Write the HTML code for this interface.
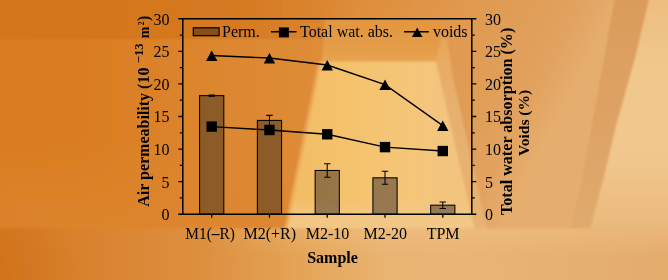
<!DOCTYPE html>
<html><head><meta charset="utf-8"><style>
html,body{margin:0;padding:0;background:#DB7F26;}
body{width:668px;height:280px;overflow:hidden;}
svg{display:block}
text{font-family:"Liberation Serif",serif;fill:#000}
.b{font-weight:bold}
</style></head><body>
<svg width="668" height="280" viewBox="0 0 668 280">
<defs>
<linearGradient id="gl" gradientUnits="userSpaceOnUse" x1="0" y1="0" x2="330" y2="0">
<stop offset="0" stop-color="#D97C20"/><stop offset="0.3" stop-color="#DA7E22"/><stop offset="0.73" stop-color="#DD8832"/><stop offset="1" stop-color="#DF8D3A"/></linearGradient>
<linearGradient id="gt" gradientUnits="userSpaceOnUse" x1="0" y1="0" x2="330" y2="0">
<stop offset="0" stop-color="#D4761E"/><stop offset="0.3" stop-color="#D4761C"/><stop offset="0.75" stop-color="#D67B22"/><stop offset="1" stop-color="#DC8632"/></linearGradient>
<linearGradient id="gf" gradientUnits="userSpaceOnUse" x1="0" y1="0" x2="668" y2="0">
<stop offset="0" stop-color="#D47620"/><stop offset="0.15" stop-color="#DA8430"/><stop offset="0.31" stop-color="#DE9040"/><stop offset="0.45" stop-color="#E4A456"/><stop offset="0.58" stop-color="#E9B472"/><stop offset="0.7" stop-color="#E9B474"/><stop offset="0.8" stop-color="#E6B272"/><stop offset="1" stop-color="#E4AC6C"/></linearGradient>
<linearGradient id="gtr" gradientUnits="userSpaceOnUse" x1="330" y1="0" x2="560" y2="120">
<stop offset="0" stop-color="#DC8632"/><stop offset="0.12" stop-color="#DF8E3A"/><stop offset="0.5" stop-color="#E19A50"/><stop offset="0.7" stop-color="#E09E58"/><stop offset="0.88" stop-color="#E2A461"/><stop offset="1.04" stop-color="#E6AE6E"/></linearGradient>
<linearGradient id="gc" gradientUnits="userSpaceOnUse" x1="0" y1="19" x2="0" y2="61">
<stop offset="0" stop-color="#E2963E"/><stop offset="0.8" stop-color="#E59E4A"/><stop offset="1" stop-color="#E8A452"/></linearGradient>
<linearGradient id="gw" gradientUnits="userSpaceOnUse" x1="290" y1="0" x2="470" y2="0">
<stop offset="0" stop-color="#F2BC64"/><stop offset="0.3" stop-color="#F5C26C"/><stop offset="0.65" stop-color="#F5C678"/><stop offset="1" stop-color="#F2C480"/></linearGradient>
<linearGradient id="gb" gradientUnits="userSpaceOnUse" x1="0" y1="0" x2="0" y2="229">
<stop offset="0" stop-color="#DB9C5A"/><stop offset="1" stop-color="#E0AA6E"/></linearGradient>
<linearGradient id="gr" gradientUnits="userSpaceOnUse" x1="0" y1="0" x2="0" y2="229">
<stop offset="0" stop-color="#EDBE80"/><stop offset="0.3" stop-color="#F0C88C"/><stop offset="0.72" stop-color="#F0C68C"/><stop offset="1" stop-color="#E9B87C"/></linearGradient>
<radialGradient id="gbl" gradientUnits="userSpaceOnUse" cx="0" cy="285" r="85">
<stop offset="0" stop-color="#C86A10" stop-opacity="0.3"/><stop offset="1" stop-color="#C86A10" stop-opacity="0"/></radialGradient>
<linearGradient id="gbv" gradientUnits="userSpaceOnUse" x1="0" y1="19" x2="0" y2="229">
<stop offset="0.09" stop-color="#E6A458"/><stop offset="0.2" stop-color="#E8AC62"/><stop offset="0.4" stop-color="#E8B070"/><stop offset="1" stop-color="#E8B272"/></linearGradient>
<linearGradient id="gwb" gradientUnits="userSpaceOnUse" x1="0" y1="200" x2="0" y2="229">
<stop offset="0" stop-color="#F2C686" stop-opacity="0"/><stop offset="0.5" stop-color="#F2C686" stop-opacity="0.8"/><stop offset="1" stop-color="#F2C888" stop-opacity="1"/></linearGradient>
<linearGradient id="glb" gradientUnits="userSpaceOnUse" x1="0" y1="140" x2="0" y2="229">
<stop offset="0" stop-color="#DD8630" stop-opacity="0"/><stop offset="1" stop-color="#DD8630" stop-opacity="0.8"/></linearGradient>
<linearGradient id="gfl" gradientUnits="userSpaceOnUse" x1="0" y1="228.5" x2="0" y2="258">
<stop offset="0" stop-color="#F2C488" stop-opacity="0.45"/><stop offset="1" stop-color="#F2C488" stop-opacity="0"/></linearGradient>
<linearGradient id="gmx" gradientUnits="userSpaceOnUse" x1="200" y1="0" x2="330" y2="0">
<stop offset="0" stop-color="#fff" stop-opacity="0"/><stop offset="1" stop-color="#fff" stop-opacity="1"/></linearGradient>
<mask id="mfl" maskUnits="userSpaceOnUse" x="-5" y="220" width="690" height="60"><rect x="-5" y="220" width="690" height="60" fill="url(#gmx)"/></mask>
<filter id="bl" x="-5%" y="-5%" width="110%" height="110%"><feGaussianBlur stdDeviation="0.8"/></filter>
<filter id="bl2" x="-5%" y="-50%" width="110%" height="200%"><feGaussianBlur stdDeviation="2"/></filter>
</defs>
<g filter="url(#bl)">
<rect x="-5" y="-5" width="680" height="290" fill="url(#gl)"/>
<rect x="-5" y="-5" width="336" height="43.5" fill="url(#gt)"/>
<rect x="-5" y="37.8" width="330" height="1.2" fill="#C86A10" opacity="0.25"/>
<rect x="-5" y="140" width="300" height="90" fill="url(#glb)"/>
<!-- top-right region (ceiling + right wall) -->
<polygon points="322,61.5 326,-5 615.5,-5 604,60 593,120 582,180 571,229 474,229 436,61.5" fill="url(#gtr)"/>
<!-- ceiling trapezoid -->
<polygon points="322,61.5 436,61.5 441,38 446,19 325,19" fill="url(#gc)"/>
<!-- bevel -->
<polygon points="436,61.5 441,38 447,38 452.9,78 487.2,229 474.6,229" fill="url(#gbv)"/>
<!-- band -->
<polygon points="615.5,-5 650,-5 634.5,60 617.5,120 603,180 590,229 571,229 582,180 593,120 604,60" fill="url(#gb)"/>
<!-- far right -->
<polygon points="650,-5 680,-5 680,229 590,229 603,180 617.5,120 634.5,60" fill="url(#gr)"/>
<!-- back wall -->
<polygon points="320.5,61.5 436,61.5 474.6,229 286.5,229" fill="url(#gw)"/>
<polygon points="292,200 467.9,200 474.6,229 286.5,229" fill="url(#gwb)"/>
<polygon points="318.3,61.5 321.3,61.5 287.3,229 284.3,229" fill="#ECA858"/>
<!-- floor -->
<polygon points="-5,228.5 680,228.5 680,285 -5,285" fill="url(#gf)"/>
<rect x="-5" y="150" width="200" height="135" fill="url(#gbl)"/>
<rect x="-5" y="228.5" width="690" height="30" fill="url(#gfl)" mask="url(#mfl)"/>
</g>

<rect x="199.60" y="95.64" width="24.2" height="118.61" fill="#8D5B27" stroke="#000" stroke-width="1.05"/>
<rect x="257.37" y="120.41" width="24.2" height="93.84" fill="#8D5B27" stroke="#000" stroke-width="1.05"/>
<g style="mix-blend-mode:multiply">
<rect x="315.14" y="170.46" width="24.2" height="43.79" fill="#9D9BAB" stroke="#000" stroke-width="1.05"/>
<rect x="372.91" y="177.82" width="24.2" height="36.43" fill="#9D9BAB" stroke="#000" stroke-width="1.05"/>
<rect x="430.68" y="205.19" width="24.2" height="9.06" fill="#9D9BAB" stroke="#000" stroke-width="1.05"/>
</g>
<g stroke="#000" fill="none" stroke-width="1.05">
<path d="M211.70,94.99V96.29M208.50,94.99h6.4M208.50,96.29h6.4"/>
<path d="M269.47,115.39V125.42M266.27,115.39h6.4M266.27,125.42h6.4"/>
<path d="M327.24,163.68V177.23M324.04,163.68h6.4M324.04,177.23h6.4"/>
<path d="M385.01,171.30V184.34M381.81,171.30h6.4M381.81,184.34h6.4"/>
<path d="M442.78,201.93V208.45M439.58,201.93h6.4M439.58,208.45h6.4"/>
</g>
<g stroke="#000" fill="none" stroke-width="1.5">
<path d="M178.3,18.74H476.3M178.3,214.25H476.3M182.8,18.74V214.25M471.8,18.74V214.25"/>
<path stroke-width="1.3" d="M178.3,181.66H182.8M471.8,181.66H476.3M178.3,149.08H182.8M471.8,149.08H476.3M178.3,116.49H182.8M471.8,116.49H476.3M178.3,83.91H182.8M471.8,83.91H476.3M178.3,51.32H182.8M471.8,51.32H476.3M179.8,197.96H182.8M471.8,197.96H474.8M179.8,165.37H182.8M471.8,165.37H474.8M179.8,132.79H182.8M471.8,132.79H474.8M179.8,100.20H182.8M471.8,100.20H474.8M179.8,67.62H182.8M471.8,67.62H474.8M179.8,35.03H182.8M471.8,35.03H474.8M211.70,214.25V217.75M269.47,214.25V217.75M327.24,214.25V217.75M385.01,214.25V217.75M442.78,214.25V217.75"/>
</g>
<polyline points="211.70,126.60 269.47,129.99 327.24,134.29 385.01,147.12 442.78,151.04" fill="none" stroke="#000" stroke-width="1.4"/>
<polyline points="211.70,55.50 269.47,58.04 327.24,65.01 385.01,84.56 442.78,125.62" fill="none" stroke="#000" stroke-width="1.4"/>
<rect x="206.50" y="121.40" width="10.4" height="10.4" fill="#000"/>
<polygon points="206.00,60.90 217.40,60.90 211.70,50.50" fill="#000"/>
<rect x="264.27" y="124.79" width="10.4" height="10.4" fill="#000"/>
<polygon points="263.77,63.44 275.17,63.44 269.47,53.04" fill="#000"/>
<rect x="322.04" y="129.09" width="10.4" height="10.4" fill="#000"/>
<polygon points="321.54,70.41 332.94,70.41 327.24,60.01" fill="#000"/>
<rect x="379.81" y="141.92" width="10.4" height="10.4" fill="#000"/>
<polygon points="379.31,89.96 390.71,89.96 385.01,79.56" fill="#000"/>
<rect x="437.58" y="145.84" width="10.4" height="10.4" fill="#000"/>
<polygon points="437.08,131.02 448.48,131.02 442.78,120.62" fill="#000"/>
<text x="169.5" y="220.25" font-size="16" text-anchor="end">0</text>
<text x="485.0" y="220.25" font-size="16">0</text>
<text x="169.5" y="187.66" font-size="16" text-anchor="end">5</text>
<text x="485.0" y="187.66" font-size="16">5</text>
<text x="169.5" y="155.08" font-size="16" text-anchor="end">10</text>
<text x="485.0" y="155.08" font-size="16">10</text>
<text x="169.5" y="122.49" font-size="16" text-anchor="end">15</text>
<text x="485.0" y="122.49" font-size="16">15</text>
<text x="169.5" y="89.91" font-size="16" text-anchor="end">20</text>
<text x="485.0" y="89.91" font-size="16">20</text>
<text x="169.5" y="57.32" font-size="16" text-anchor="end">25</text>
<text x="485.0" y="57.32" font-size="16">25</text>
<text x="169.5" y="24.74" font-size="16" text-anchor="end">30</text>
<text x="485.0" y="24.74" font-size="16">30</text>
<text x="210.10" y="239.2" font-size="16" text-anchor="middle" textLength="49.6" lengthAdjust="spacingAndGlyphs">M1(<tspan font-weight="bold">–</tspan>R)</text>
<text x="269.77" y="239.2" font-size="16" text-anchor="middle">M2(+R)</text>
<text x="327.54" y="239.2" font-size="16" text-anchor="middle">M2-10</text>
<text x="385.31" y="239.2" font-size="16" text-anchor="middle">M2-20</text>
<text x="443.08" y="239.2" font-size="16" text-anchor="middle">TPM</text>
<text class="b" x="332.5" y="263.2" font-size="16" text-anchor="middle">Sample</text>
<text class="b" font-size="16" transform="translate(148.8,206.8) rotate(-90)">Air permeability (10</text>
<text class="b" font-size="12.5" transform="translate(143,63.2) rotate(-90)">−13</text>
<text class="b" font-size="14" transform="translate(148.8,38.2) rotate(-90)">m</text>
<text class="b" font-size="7.5" transform="translate(143.6,25.3) rotate(-90)">2</text>
<text class="b" font-size="16" transform="translate(148.8,21) rotate(-90)">)</text>
<text class="b" font-size="16.1" transform="translate(512,215) rotate(-90)">Total water absorption (%)</text>
<text class="b" font-size="15.5" transform="translate(528.6,156) rotate(-90)">Voids (%)</text>
<g style="mix-blend-mode:multiply"><rect x="193.3" y="27.8" width="25.8" height="7.9" fill="#A0A3AE" stroke="#000" stroke-width="1.2"/></g>
<text x="222" y="36.8" font-size="16">Perm.</text>
<path d="M271,31.8H296.6M404,31.8H428.8" stroke="#000" stroke-width="1.4"/>
<rect x="278.9" y="27.4" width="10" height="10" fill="#000"/>
<polygon points="411.9,37 422.5,37 417.2,27.4" fill="#000"/>
<text x="300" y="36.8" font-size="16">Total wat. abs.</text>
<text x="432.9" y="36.8" font-size="16">voids</text>
</svg></body></html>
